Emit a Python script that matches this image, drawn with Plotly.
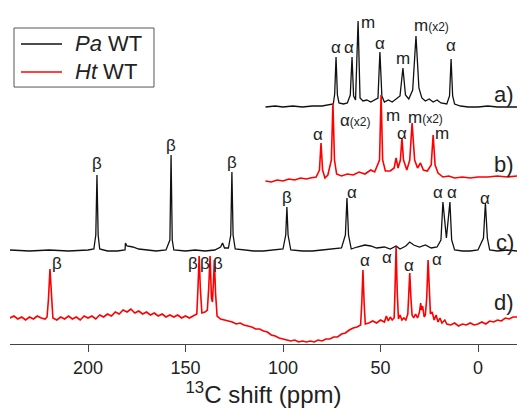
import plotly.graph_objects as go

# ---------------- data (ppm, intensity above each trace's baseline) ----------------
a_ppm = [109, 104, 100, 95, 90, 85, 80, 76, 74.2, 73.5, 72.8, 72.1, 71.3, 69, 67, 65.5, 64.6, 63.8, 62.8,
         61.5, 60.5, 59, 57, 55, 53, 51.3, 50.3, 49.3, 48, 46, 44, 42, 40, 38.5, 37.2, 35.5, 33.5, 31.8,
         30.3, 28.8, 27, 25, 23, 21, 19, 16, 14.6, 13.8, 13, 12, 9, 5, 0, -5, -10, -15, -20]
a_int = [-1, 0, -1, 0, -1, 0, 0, 1, 2, 12, 49, 11, 3, 2, 3, 11, 49, 10, 6,
         85, 8, 5, 6, 4, 6, 8, 54, 10, 4, 6, 4, 7, 10, 38, 11, 7, 16, 70,
         18, 8, 5, 7, 4, 6, 3, 2, 10, 47, 10, 2, 0, -1, -1, 0, -1, -1, -1]

b_ppm = [109, 106, 103, 100, 97, 94, 91, 88, 86, 83, 81.3, 80.5, 79.7, 78.5, 77, 75.2, 74.4, 73.6, 72.5,
         70, 67, 64, 61, 58, 55, 53, 50.5, 49.7, 48.9, 47.5, 45, 43, 42, 41, 39.8, 39, 38.2, 36.5, 35,
         33.8, 32.5, 31, 29.5, 28, 26, 24, 23, 22, 20.5, 18, 15, 12, 8, 4, 0, -5, -10, -15, -20]
b_int = [-2, -3, -1, -2, 0, -1, 1, 0, 1, 2, 9, 36, 9, 1, 4, 19, 76, 19, 5,
         3, 5, 4, 7, 5, 9, 7, 19, 84, 19, 8, 8, 11, 21, 11, 19, 41, 19, 9, 19,
         56, 19, 11, 16, 9, 8, 14, 44, 14, 6, 2, 3, 1, 2, 1, 2, 2, 3, 2, 3]

c_ppm = [240, 230, 220, 210, 200, 197, 196, 195.4, 194.8, 194, 190, 185, 181, 180.8, 180, 177, 174, 170,
         165, 160, 158, 157.4, 156.8, 156, 150, 145, 140, 135, 132, 131, 130, 128, 126.8, 126.2, 125.6,
         124.5, 120, 115, 110, 105, 100, 98.6, 98, 97.4, 96, 90, 85, 80, 75, 70, 68, 67.2, 66.4, 65, 62,
         58, 55, 52, 48, 45, 42, 40, 37, 35, 33, 30, 27, 24, 21, 19, 18, 16.2, 14.4, 13.5, 12, 8, 4, 0,
         -2.8, -3.8, -4.8, -6, -10, -15, -20]
c_int = [1, 0, 1, 0, 1, 2, 16, 76, 16, 2, 0, 0, 1, 8, 5, 4, 2, 1,
         0, 1, 11, 96, 11, 1, 0, 1, 0, 1, 4, 8, 3, 3, 16, 79, 16,
         2, 1, 0, 0, 1, 2, 16, 44, 16, 1, 0, 0, 1, 2, 3, 16, 53, 16, 2, 4,
         6, 5, 3, 4, 2, 5, 2, 5, 9, 6, 4, 6, 3, 4, 11, 49, 13, 49, 11, 1, 0, 0, 1,
         13, 48, 13, 1, 0, 1, 0]

d_ppm = [240, 238, 236, 234, 232, 230, 228, 226, 224, 222, 221, 220.3, 219.5, 218.7, 218, 216, 214, 212,
         210, 208, 206, 204, 202, 200, 198, 196, 194, 192, 190, 188, 186, 184, 182, 180, 178, 176, 174,
         172, 170, 168, 166, 164, 162, 160, 158, 156, 154, 152, 150, 148, 146, 144.2, 143.6, 143, 142.4,
         141.6, 140, 138.8, 138.1, 137.4, 136.7, 136.2, 135.7, 135.2, 134.6, 133.8, 132, 130, 128, 126,
         124, 122, 120, 118, 116, 114, 112, 110, 108, 106, 104, 102, 100, 98, 96, 94, 92, 90, 88, 86, 84,
         82, 80, 78, 76, 74, 72, 70, 68, 66, 64, 62, 60.2, 59.6, 59, 58.4, 57.8, 56, 54, 52, 50, 48, 47,
         46, 45, 44, 43, 42.6, 42, 41.4, 40.8, 40, 39, 38, 37, 36, 35.6, 35, 34.4, 33.8, 33, 32, 31, 30,
         29.4, 29, 28.4, 27.6, 27, 26.3, 25.6, 25, 24.4, 23.5, 22.5, 21.5, 20.5, 19.5, 18.5, 17, 16, 14,
         12, 10, 8, 6, 4, 2, 0, -2, -4, -6, -8, -10, -12, -14, -16, -18, -20]
d_int = [0, 2, -1, 1, -2, 1, -1, 2, 0, -1, 1, 18, 49, 18, 0, -2, 1, -1,
         2, -1, 1, -2, 2, 0, 2, -1, 3, 1, 4, 2, 6, 4, 8, 6, 9, 5, 7,
         4, 6, 3, 5, 2, 4, 1, 3, 1, 3, 0, 2, 0, 2, 4, 30, 62, 30,
         5, 6, 8, 30, 62, 20, 16, 35, 58, 25, 2, -1, -2, -3, -4,
         -6, -5, -7, -8, -9, -11, -11, -13, -14, -17, -18, -20, -21, -22, -23, -22, -24, -23, -24, -23, -24,
         -22, -23, -21, -21, -19, -19, -16, -15, -12, -10, -9, -7, 15, 48, 15, -6, -5, -3, -5, -2, -4, 2,
         -3, 1, -2, 0, 25, 71, 25, -1, 3, -2, 0, -2, 4, 20, 45, 20, 3, 0, 4, 0, 6,
         15, 8, 12, 1, 3, 20, 58, 22, 4, 6, -2, 3, -4, 0, -5, -2, -6, -7,
         -5, -8, -6, -7, -5, -7, -6, -4, -6, -3, -4, -2, -3, 0, -1, 1, 1]

# peak labels: (text, ppm, height)
lab_text = ["α", "α", "m", "α", "m", "α",
            "α", "m", "α", "m",
            "β", "β", "β", "β", "α", "α", "α", "α",
            "β", "β", "β", "β", "α", "α", "α", "α"]
lab_ppm = [72.8, 66.2, 56.4, 50.3, 38.5, 13.8,
           82.0, 43.6, 39.0, 18.5,
           195.4, 157.4, 126.2, 98.0, 64.6, 20.5, 13.3, -3.6,
           215.9, 146.2, 140.0, 133.3, 57.9, 46.7, 35.4, 21.0]
lab_y = [297, 297, 322, 301, 286, 299,
         210, 229, 211, 211,
         181, 199, 182, 147, 152, 152, 152, 146,
         81, 81, 81, 81, 84, 87, 79, 85]

x2_text = ["m", "α", "m"]
x2_ppm = [33.9, 71.8, 36.9]
x2_y = [319, 224, 227]

panel_text = ["a)", "b)", "c)", "d)"]
panel_y = [250, 180, 102, 42]

legend_names = ["<i>Pa</i> WT", "<i>Ht</i> WT"]

# ---------------- layout constants ----------------
offsets = {"a": 238, "b": 165, "c": 93, "d": 26}
BLACK = "#111111"
RED = "#ff0000"
FONT = "Liberation Sans, Arial, sans-serif"
TXT = "#222222"

fig = go.Figure()
fig.add_trace(go.Scatter(x=a_ppm, y=[v + offsets["a"] for v in a_int], mode="lines",
                         line=dict(color=BLACK, width=1.3), name=legend_names[0]))
fig.add_trace(go.Scatter(x=b_ppm, y=[v + offsets["b"] for v in b_int], mode="lines",
                         line=dict(color=RED, width=1.6), name=legend_names[1]))
fig.add_trace(go.Scatter(x=c_ppm, y=[v + offsets["c"] for v in c_int], mode="lines",
                         line=dict(color=BLACK, width=1.3), name=legend_names[0]))
fig.add_trace(go.Scatter(x=d_ppm, y=[v + offsets["d"] for v in d_int], mode="lines",
                         line=dict(color=RED, width=1.6), name=legend_names[1]))

ann = []
for t, x, y in zip(lab_text, lab_ppm, lab_y):
    ann.append(dict(x=x, y=y, text=t, showarrow=False, xref="x", yref="y",
                    font=dict(size=17, color=TXT, family=FONT)))
for t, x, y in zip(x2_text, x2_ppm, x2_y):
    ann.append(dict(x=x, y=y, text=t + "<span style='font-size:12px'>(x2)</span>", showarrow=False,
                    xref="x", yref="y", xanchor="left",
                    font=dict(size=17, color=TXT, family=FONT)))
for t, y in zip(panel_text, panel_y):
    ann.append(dict(x=-19.5, y=y, text=t, showarrow=False, xref="x", yref="y", xanchor="right",
                    font=dict(size=22, color=TXT, family=FONT)))

# hand-drawn legend box (paper coordinates)
shapes = [dict(type="rect", xref="paper", yref="paper", x0=0.0079, x1=0.284, y0=0.747, y1=0.9186,
               line=dict(color="#555", width=1), fillcolor="white", layer="above")]
for name, col, yy in zip(legend_names, [BLACK, RED], [0.8721, 0.7907]):
    shapes.append(dict(type="line", xref="paper", yref="paper", x0=0.0217, x1=0.1026, y0=yy, y1=yy,
                       line=dict(color=col, width=1.3), layer="above"))
    ann.append(dict(x=0.1243, y=yy, xref="paper", yref="paper", text=name, showarrow=False,
                    xanchor="left", yanchor="middle",
                    font=dict(size=22, color=TXT, family=FONT)))

fig.update_layout(
    width=517, height=414,
    margin=dict(l=10, r=0, t=0, b=70),
    paper_bgcolor="white", plot_bgcolor="white",
    font=dict(family=FONT, color=TXT),
    annotations=ann,
    shapes=shapes,
    showlegend=False,
    xaxis=dict(range=[240, -20], tickvals=[200, 150, 100, 50, 0],
               showline=True, linecolor="#444", linewidth=1,
               ticks="outside", ticklen=7, tickcolor="#444",
               showgrid=False, zeroline=False,
               tickfont=dict(size=18, family=FONT, color=TXT),
               title=dict(text="<sup>13</sup>C shift (ppm)", standoff=7,
                          font=dict(size=24, family=FONT, color=TXT))),
    yaxis=dict(range=[0, 344], visible=False, fixedrange=True),
)

fig.write_html("out.html", config={"displayModeBar": False},
               post_script="document.body.style.margin='0px';document.body.style.overflow='hidden';")
